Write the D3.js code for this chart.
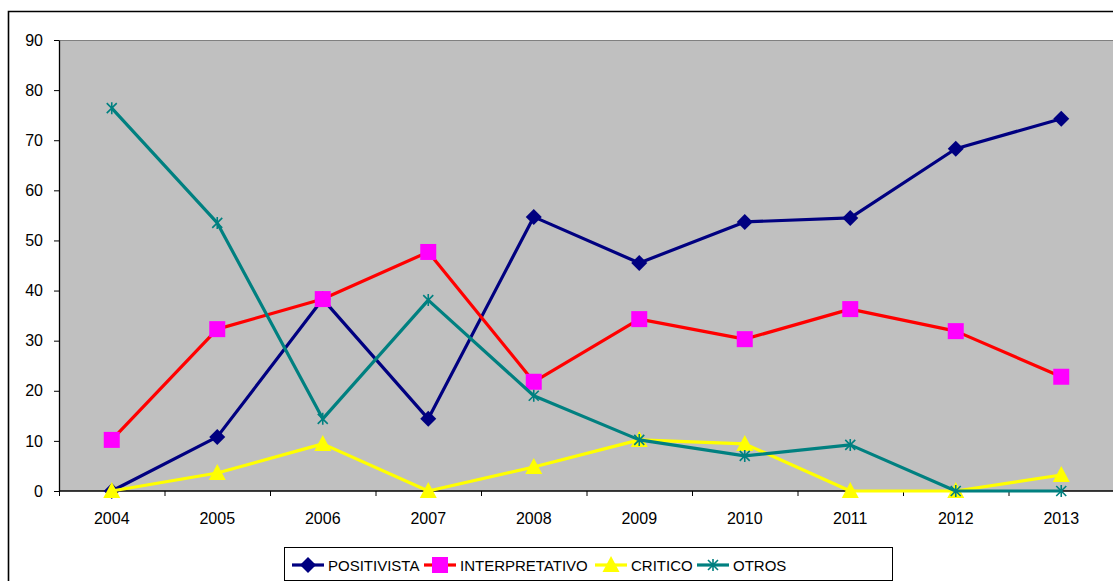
<!DOCTYPE html>
<html><head><meta charset="utf-8">
<script src="https://cdn.jsdelivr.net/npm/d3@7"></script>
<style>body{margin:0;background:#fff;}svg{display:block;}</style>
</head><body>
<svg id="c" width="1113" height="581"></svg>
<script>
const years = ["2004","2005","2006","2007","2008","2009","2010","2011","2012","2013"];
const positivista = [0, 10.8, 38.3, 14.4, 54.7, 45.5, 53.7, 54.5, 68.3, 74.3];
const interpretativo = [10.2, 32.3, 38.3, 47.7, 21.8, 34.3, 30.3, 36.3, 31.9, 22.8];
const critico = [0, 3.6, 9.4, 0, 4.8, 10.2, 9.4, 0, 0, 3.2];
const otros = [76.4, 53.5, 14.4, 38.1, 19.0, 10.2, 7.0, 9.2, 0, 0];
const yTicks = [0,10,20,30,40,50,60,70,80,90];
const seriesNames = ["POSITIVISTA","INTERPRETATIVO","CRITICO","OTROS"];

const series = [
  {name: seriesNames[0], values: positivista, line: "#000080", fill: "#000080", marker: "diamond"},
  {name: seriesNames[1], values: interpretativo, line: "#FF0000", fill: "#FF00FF", marker: "square"},
  {name: seriesNames[2], values: critico, line: "#FFFF00", fill: "#FFFF00", marker: "triangle"},
  {name: seriesNames[3], values: otros, line: "#008080", fill: "#008080", marker: "star"}
];

const svg = d3.select("#c");
const font = "'Liberation Sans', Arial, sans-serif";

// outer frame
svg.append("path").attr("d","M8.5,700 V11.5 H1200").attr("fill","none").attr("stroke","#000").attr("stroke-width",1.6);

const L = 59, R = 1114, T = 40, B = 491;
const x = d3.scaleBand().domain(years).range([L, R]);
const y = d3.scaleLinear().domain([0, 90]).range([B, T]);

svg.append("rect").attr("x", L).attr("y", T).attr("width", R - L).attr("height", B - T).attr("fill", "#C0C0C0");
svg.append("line").attr("x1", L).attr("x2", R).attr("y1", T + 0.5).attr("y2", T + 0.5).attr("stroke", "#808080").attr("stroke-width", 1);

// y axis
const yAxis = svg.append("g").attr("transform", `translate(${L},0)`)
  .call(d3.axisLeft(y).tickValues(yTicks).tickSize(5).tickSizeOuter(0).tickPadding(11));
yAxis.select(".domain").attr("stroke", "#000").attr("stroke-width", 1.3);
yAxis.selectAll(".tick line").attr("stroke", "#000");
yAxis.selectAll("text").attr("font-family", font).attr("font-size", 16).attr("fill", "#000");

// x axis (ticks between categories)
const xAxisG = svg.append("g").attr("transform", `translate(0,${B})`);
xAxisG.append("line").attr("x1", L).attr("x2", R).attr("y1", 0).attr("y2", 0).attr("stroke", "#000").attr("stroke-width", 1.3);
const bounds = years.map(d => x(d)).concat([R]);
xAxisG.selectAll("line.tk").data(bounds).enter().append("line").attr("class","tk")
  .attr("x1", d => d + 0.5).attr("x2", d => d + 0.5).attr("y1", 0).attr("y2", 5).attr("stroke", "#000");
xAxisG.selectAll("text").data(years).enter().append("text")
  .attr("x", d => x(d) + x.bandwidth() / 2).attr("y", 33)
  .attr("text-anchor", "middle").attr("font-family", font).attr("font-size", 16).text(d => d);

const cx = (d, i) => x(years[i]) + x.bandwidth() / 2;
const lineGen = d3.line().x((d, i) => cx(d, i)).y(d => y(d));

function drawMarker(g, type, fill, px, py) {
  if (type === "diamond") {
    g.append("path").attr("d", `M${px},${py-8} L${px+8},${py} L${px},${py+8} L${px-8},${py} Z`).attr("fill", fill);
  } else if (type === "square") {
    g.append("rect").attr("x", px - 8).attr("y", py - 8).attr("width", 16).attr("height", 16).attr("fill", fill);
  } else if (type === "triangle") {
    g.append("path").attr("d", `M${px},${py-9} L${px+8.5},${py+7} L${px-8.5},${py+7} Z`).attr("fill", fill);
  } else if (type === "star") {
    g.append("path").attr("d", `M${px-5},${py-5} L${px+5},${py+5} M${px+5},${py-5} L${px-5},${py+5} M${px},${py-6} L${px},${py+6}`)
      .attr("stroke", fill).attr("stroke-width", 1.6).attr("fill", "none");
  }
}

series.forEach(s => {
  const g = svg.append("g");
  g.append("path").datum(s.values).attr("d", lineGen).attr("fill", "none")
    .attr("stroke", s.line).attr("stroke-width", 3.2).attr("stroke-linejoin", "round");
  s.values.forEach((v, i) => drawMarker(g, s.marker, s.fill, cx(v, i), y(v)));
});

// legend
const lg = svg.append("g");
lg.append("rect").attr("x", 284.5).attr("y", 547.5).attr("width", 608).attr("height", 33).attr("fill", "#fff").attr("stroke", "#000").attr("stroke-width", 1);
const legX = [292, 424, 595, 697];
series.forEach((s, i) => {
  const lx = legX[i], ly = 565;
  lg.append("line").attr("x1", lx).attr("x2", lx + 32).attr("y1", ly).attr("y2", ly).attr("stroke", s.line).attr("stroke-width", 3.2);
  drawMarker(lg, s.marker, s.fill, lx + 16, ly);
  lg.append("text").attr("x", lx + 36).attr("y", ly + 5.5).attr("font-family", font).attr("font-size", 15).text(s.name);
});
</script>
</body></html>
